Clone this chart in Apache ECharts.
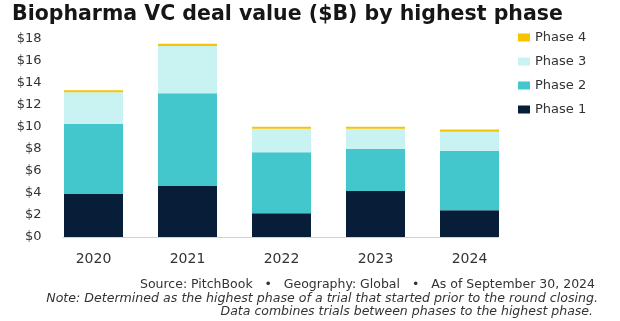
<!DOCTYPE html>
<html>
<head>
<meta charset="utf-8">
<script src="https://cdn.jsdelivr.net/npm/echarts@6/dist/echarts.min.js"></script>
<style>
  html, body { margin: 0; padding: 0; background: #ffffff; }
  #chart { width: 620px; height: 321px; }
</style>
</head>
<body>
<div id="chart"></div>
<script>
// Biopharma VC deal value ($B), stacked by highest trial phase
const years = ['2020', '2021', '2022', '2023', '2024'];
const phase1 = [3.9, 4.64, 2.15, 4.18, 2.43];
const phase2 = [6.37, 8.42, 5.55, 3.82, 5.42];
const phase3 = [2.88, 4.3, 2.15, 1.85, 1.72];
const phase4 = [0.2, 0.2, 0.18, 0.18, 0.2];
const yTicks = { min: 0, max: 18, interval: 2 };

const FONT = '"DejaVu Sans", "Open Sans", sans-serif';
const TEXT = '#333333';
const colors = { p1: '#071d38', p2: '#43c6cc', p3: '#c9f3f2', p4: '#f6c500' };

const chart = echarts.init(document.getElementById('chart'), null, { renderer: 'canvas' });

function bar(name, data, color) {
  return {
    name: name,
    type: 'bar',
    stack: 'total',
    barWidth: 59,
    data: data,
    itemStyle: { color: color },
    emphasis: { disabled: true }
  };
}

chart.setOption({
  animation: false,
  backgroundColor: '#ffffff',
  textStyle: { fontFamily: FONT },
  title: {
    text: 'Biopharma VC deal value ($B) by highest phase',
    left: 12,
    top: 4,
    padding: 0,
    textStyle: { fontFamily: FONT, fontSize: 20.5, fontWeight: 'bold', color: '#161616' }
  },
  legend: {
    orient: 'vertical',
    left: 518,
    top: 31,
    padding: 0,
    itemWidth: 12,
    itemHeight: 8,
    itemGap: 11,
    icon: 'rect',
    data: ['Phase 4', 'Phase 3', 'Phase 2', 'Phase 1'],
    textStyle: { fontFamily: FONT, fontSize: 13, color: TEXT }
  },
  grid: [
    { left: 46.5, right: 103.5, top: 39, bottom: 84 },
    // thin baseline spanning the bars
    { left: 63, right: 122, top: 39, bottom: 84 }
  ],
  xAxis: [
    {
      type: 'category',
      gridIndex: 0,
      data: years,
      axisLine: { show: false },
      axisTick: { show: false },
      axisLabel: { margin: 15, fontSize: 14, color: TEXT, fontFamily: FONT }
    },
    {
      type: 'value',
      gridIndex: 1,
      min: 0,
      max: 1,
      axisLine: { show: true, lineStyle: { color: '#d0d3d6', width: 1 } },
      axisTick: { show: false },
      axisLabel: { show: false },
      splitLine: { show: false }
    }
  ],
  yAxis: [
    {
      type: 'value',
      gridIndex: 0,
      min: yTicks.min,
      max: yTicks.max,
      interval: yTicks.interval,
      axisLine: { show: false },
      axisTick: { show: false },
      splitLine: { show: false },
      axisLabel: {
        margin: 5,
        fontSize: 13,
        color: TEXT,
        fontFamily: FONT,
        formatter: function (v) { return '$' + v; }
      }
    },
    {
      type: 'value',
      gridIndex: 1,
      show: false,
      min: 0,
      max: 1
    }
  ],
  series: [
    bar('Phase 1', phase1, colors.p1),
    bar('Phase 2', phase2, colors.p2),
    bar('Phase 3', phase3, colors.p3),
    bar('Phase 4', phase4, colors.p4)
  ],
  graphic: [
    {
      type: 'text',
      right: 25,
      top: 278,
      style: {
        text: 'Source: PitchBook   \u2022   Geography: Global   \u2022   As of September 30, 2024',
        font: '12.5px ' + FONT,
        fill: TEXT,
        textAlign: 'right'
      }
    },
    {
      type: 'text',
      right: 22,
      top: 292,
      style: {
        text: 'Note: Determined as the highest phase of a trial that started prior to the round closing.',
        font: 'italic 12.6px ' + FONT,
        fill: TEXT,
        textAlign: 'right'
      }
    },
    {
      type: 'text',
      right: 27,
      top: 305,
      style: {
        text: 'Data combines trials between phases to the highest phase.',
        font: 'italic 12.5px ' + FONT,
        fill: TEXT,
        textAlign: 'right'
      }
    }
  ]
});
</script>
</body>
</html>
